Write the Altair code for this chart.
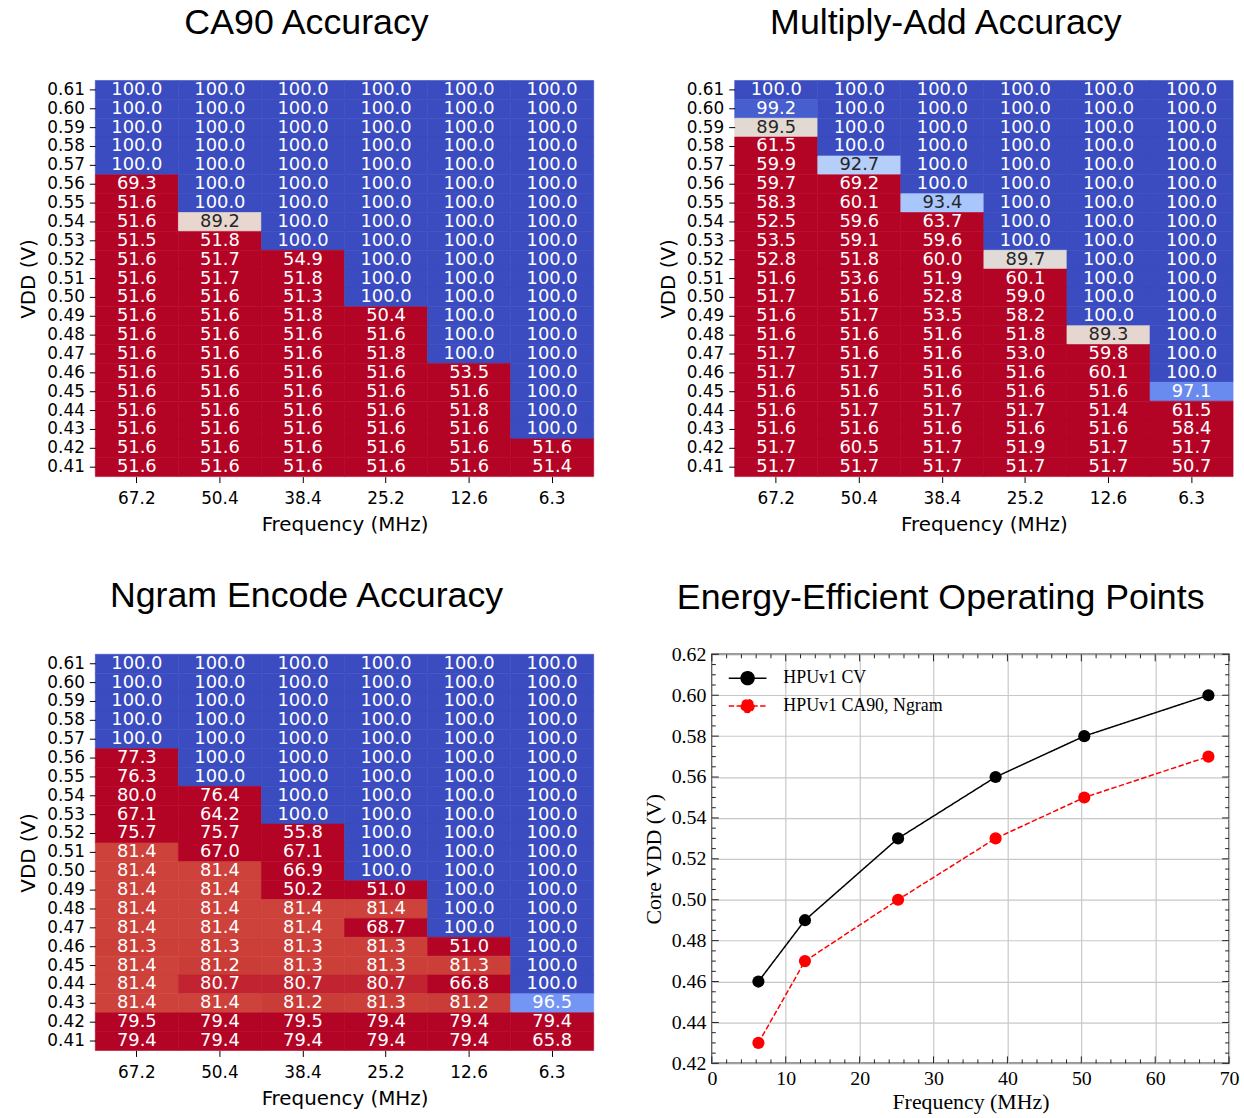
import altair as alt
import pandas as pd

# ---------------- data ----------------
vdd_labels = ["0.61", "0.60", "0.59", "0.58", "0.57", "0.56", "0.55", "0.54", "0.53",
              "0.52", "0.51", "0.50", "0.49", "0.48", "0.47", "0.46", "0.45", "0.44",
              "0.43", "0.42", "0.41"]
freq_labels = ["67.2", "50.4", "38.4", "25.2", "12.6", "6.3"]

ca90_acc = [
    [100.0, 100.0, 100.0, 100.0, 100.0, 100.0],
    [100.0, 100.0, 100.0, 100.0, 100.0, 100.0],
    [100.0, 100.0, 100.0, 100.0, 100.0, 100.0],
    [100.0, 100.0, 100.0, 100.0, 100.0, 100.0],
    [100.0, 100.0, 100.0, 100.0, 100.0, 100.0],
    [69.3, 100.0, 100.0, 100.0, 100.0, 100.0],
    [51.6, 100.0, 100.0, 100.0, 100.0, 100.0],
    [51.6, 89.2, 100.0, 100.0, 100.0, 100.0],
    [51.5, 51.8, 100.0, 100.0, 100.0, 100.0],
    [51.6, 51.7, 54.9, 100.0, 100.0, 100.0],
    [51.6, 51.7, 51.8, 100.0, 100.0, 100.0],
    [51.6, 51.6, 51.3, 100.0, 100.0, 100.0],
    [51.6, 51.6, 51.8, 50.4, 100.0, 100.0],
    [51.6, 51.6, 51.6, 51.6, 100.0, 100.0],
    [51.6, 51.6, 51.6, 51.8, 100.0, 100.0],
    [51.6, 51.6, 51.6, 51.6, 53.5, 100.0],
    [51.6, 51.6, 51.6, 51.6, 51.6, 100.0],
    [51.6, 51.6, 51.6, 51.6, 51.8, 100.0],
    [51.6, 51.6, 51.6, 51.6, 51.6, 100.0],
    [51.6, 51.6, 51.6, 51.6, 51.6, 51.6],
    [51.6, 51.6, 51.6, 51.6, 51.6, 51.4],
]

muladd_acc = [
    [100.0, 100.0, 100.0, 100.0, 100.0, 100.0],
    [99.2, 100.0, 100.0, 100.0, 100.0, 100.0],
    [89.5, 100.0, 100.0, 100.0, 100.0, 100.0],
    [61.5, 100.0, 100.0, 100.0, 100.0, 100.0],
    [59.9, 92.7, 100.0, 100.0, 100.0, 100.0],
    [59.7, 69.2, 100.0, 100.0, 100.0, 100.0],
    [58.3, 60.1, 93.4, 100.0, 100.0, 100.0],
    [52.5, 59.6, 63.7, 100.0, 100.0, 100.0],
    [53.5, 59.1, 59.6, 100.0, 100.0, 100.0],
    [52.8, 51.8, 60.0, 89.7, 100.0, 100.0],
    [51.6, 53.6, 51.9, 60.1, 100.0, 100.0],
    [51.7, 51.6, 52.8, 59.0, 100.0, 100.0],
    [51.6, 51.7, 53.5, 58.2, 100.0, 100.0],
    [51.6, 51.6, 51.6, 51.8, 89.3, 100.0],
    [51.7, 51.6, 51.6, 53.0, 59.8, 100.0],
    [51.7, 51.7, 51.6, 51.6, 60.1, 100.0],
    [51.6, 51.6, 51.6, 51.6, 51.6, 97.1],
    [51.6, 51.7, 51.7, 51.7, 51.4, 61.5],
    [51.6, 51.6, 51.6, 51.6, 51.6, 58.4],
    [51.7, 60.5, 51.7, 51.9, 51.7, 51.7],
    [51.7, 51.7, 51.7, 51.7, 51.7, 50.7],
]

ngram_acc = [
    [100.0, 100.0, 100.0, 100.0, 100.0, 100.0],
    [100.0, 100.0, 100.0, 100.0, 100.0, 100.0],
    [100.0, 100.0, 100.0, 100.0, 100.0, 100.0],
    [100.0, 100.0, 100.0, 100.0, 100.0, 100.0],
    [100.0, 100.0, 100.0, 100.0, 100.0, 100.0],
    [77.3, 100.0, 100.0, 100.0, 100.0, 100.0],
    [76.3, 100.0, 100.0, 100.0, 100.0, 100.0],
    [80.0, 76.4, 100.0, 100.0, 100.0, 100.0],
    [67.1, 64.2, 100.0, 100.0, 100.0, 100.0],
    [75.7, 75.7, 55.8, 100.0, 100.0, 100.0],
    [81.4, 67.0, 67.1, 100.0, 100.0, 100.0],
    [81.4, 81.4, 66.9, 100.0, 100.0, 100.0],
    [81.4, 81.4, 50.2, 51.0, 100.0, 100.0],
    [81.4, 81.4, 81.4, 81.4, 100.0, 100.0],
    [81.4, 81.4, 81.4, 68.7, 100.0, 100.0],
    [81.3, 81.3, 81.3, 81.3, 51.0, 100.0],
    [81.4, 81.2, 81.3, 81.3, 81.3, 100.0],
    [81.4, 80.7, 80.7, 80.7, 66.8, 100.0],
    [81.4, 81.4, 81.2, 81.3, 81.2, 96.5],
    [79.5, 79.4, 79.5, 79.4, 79.4, 79.4],
    [79.4, 79.4, 79.4, 79.4, 79.4, 65.8],
]

line_freq = [6.3, 12.6, 25.2, 38.4, 50.4, 67.2]
cv_vdd = [0.46, 0.49, 0.53, 0.56, 0.58, 0.60]
ca90_ngram_vdd = [0.43, 0.47, 0.50, 0.53, 0.55, 0.57]
series_names = ["HPUv1 CV", "HPUv1 CA90, Ngram"]

x_major = [0, 10, 20, 30, 40, 50, 60, 70]
x_minor = [v for v in range(0, 71, 2) if v % 10 != 0]
y_major = [0.42, 0.44, 0.46, 0.48, 0.50, 0.52, 0.54, 0.56, 0.58, 0.60, 0.62]
y_minor = [round(0.42 + 0.005 * i, 3) for i in range(41) if i % 4 != 0]

# coolwarm colormap stops (blue -> red), used reversed over [80, 100]
coolwarm = ["#3b4cc0", "#4d68d7", "#6282ea", "#779af7", "#8db0fe", "#a3c2ff",
            "#b8d0f9", "#ccd9ee", "#dddddd", "#ecd3c5", "#f5c4ad", "#f7b194",
            "#f49a7b", "#ec7f63", "#de604d", "#cb3e38", "#b40426"]
vmin, vmax = 80.0, 100.0
cw_domain = [vmin + (vmax - vmin) * i / 16 for i in range(17)]
cw_range = coolwarm[::-1]

DV = "DejaVu Sans"
SANS = "Liberation Sans"
SERIF = "Liberation Serif"
HW, HH = 502, 399
TITLE_OFFSET = 39


def heatmap(rows, title):
    recs = []
    for i, v in enumerate(vdd_labels):
        for j, f in enumerate(freq_labels):
            recs.append({"vdd": v, "freq": f, "acc": rows[i][j]})
    df = pd.DataFrame(recs)
    xaxis = alt.Axis(title="Frequency (MHz)", labelAngle=0, labelFont=DV, labelFontSize=17,
                     labelColor="black", tickColor="black", tickSize=6, tickWidth=1,
                     domain=False, labelPadding=8, titleFont=DV, titleFontSize=20,
                     titleFontWeight="normal", titleColor="black", titlePadding=8)
    yaxis = alt.Axis(title="VDD (V)", labelFont=DV, labelFontSize=17, labelColor="black",
                     tickColor="black", tickSize=6, tickWidth=1, domain=False,
                     labelPadding=5, titleFont=DV, titleFontSize=20,
                     titleFontWeight="normal", titleColor="black", titlePadding=8)
    base = alt.Chart(df).encode(
        x=alt.X("freq:O", sort=freq_labels, axis=xaxis,
                scale=alt.Scale(paddingInner=0, paddingOuter=0)),
        y=alt.Y("vdd:O", sort=vdd_labels, axis=yaxis,
                scale=alt.Scale(paddingInner=0, paddingOuter=0)),
    )
    cscale = alt.Scale(type="linear", domain=cw_domain, range=cw_range, clamp=True,
                       interpolate="rgb")
    rect = base.mark_rect(strokeWidth=0.6).encode(
        fill=alt.Fill("acc:Q", scale=cscale, legend=None),
        stroke=alt.Stroke("acc:Q", scale=cscale, legend=None),
    )
    text = base.mark_text(font=DV, fontSize=18).encode(
        text=alt.Text("acc:Q", format=".1f"),
        color=alt.condition("datum.acc > 84.7 && datum.acc < 95.3",
                            alt.value("#262626"), alt.value("#ffffff")),
    )
    return alt.layer(rect, text).properties(
        width=HW, height=HH,
        title=alt.Title(title, font=SANS, fontSize=36, fontWeight="normal", color="black",
                        frame="bounds", anchor="middle", offset=TITLE_OFFSET),
    )


h1 = heatmap(ca90_acc, "CA90 Accuracy")
h2 = heatmap(muladd_acc, "Multiply-Add Accuracy")
h3 = heatmap(ngram_acc, "Ngram Encode Accuracy")

# ---------------- line chart ----------------
LW, LH = 521, 412
line_df = pd.DataFrame({
    "series": [series_names[0]] * len(line_freq) + [series_names[1]] * len(line_freq),
    "freq": line_freq + line_freq,
    "vdd": cv_vdd + ca90_ngram_vdd,
})
xsc = alt.Scale(domain=[0, 70], nice=False, zero=False)
ysc = alt.Scale(domain=[0.42, 0.62], nice=False, zero=False)
lx_axis = alt.Axis(values=x_major, grid=True, gridColor="#c8c8c8", gridWidth=1.2, ticks=False,
                   domain=False, labelFont=SERIF, labelFontSize=20, labelColor="black",
                   labelPadding=5, labelFlush=False, title="Frequency (MHz)", titleFont=SERIF,
                   titleFontSize=22, titleFontWeight="normal", titleColor="black",
                   titlePadding=3)
ly_axis = alt.Axis(values=y_major, format=".2f", grid=True, gridColor="#c8c8c8", gridWidth=1.2,
                   ticks=False, domain=False, labelFont=SERIF, labelFontSize=20,
                   labelColor="black", labelPadding=6, labelFlush=False,
                   title="Core VDD (V)", titleFont=SERIF, titleFontSize=22,
                   titleFontWeight="normal", titleColor="black", titlePadding=6)

sym = "M-2,0L2,0M0.684,0A0.684,0.684,0,1,1,-0.684,0A0.684,0.684,0,1,1,0.684,0Z"
leg = alt.Legend(title=None, orient="none", legendX=25.5, legendY=13.5, symbolType=sym,
                 symbolSize=361, symbolStrokeWidth=1.5, labelFont=SERIF, labelFontSize=18,
                 labelColor="black", labelOffset=25.5, labelLimit=400, rowPadding=8,
                 padding=0)
color_enc = alt.Color("series:N", scale=alt.Scale(domain=series_names,
                                                  range=["#000000", "#ff0000"]), legend=leg)
dash_enc = alt.StrokeDash("series:N", scale=alt.Scale(domain=series_names,
                                                       range=[[1, 0], [5.5, 2.4]]), legend=leg)

lbase = alt.Chart(line_df).encode(
    x=alt.X("freq:Q", scale=xsc, axis=lx_axis),
    y=alt.Y("vdd:Q", scale=ysc, axis=ly_axis),
)
lines = lbase.mark_line(strokeWidth=1.5).encode(color=color_enc, strokeDash=dash_enc)
dots = lbase.mark_circle(size=150, opacity=1).encode(color=color_enc)


def xticks(vals, length, bottom):
    df = pd.DataFrame({"freq": vals})
    return alt.Chart(df).mark_rule(color="#222222", strokeWidth=1).encode(
        x=alt.X("freq:Q", scale=xsc, axis=lx_axis),
        y=alt.value(LH if bottom else 0),
        y2=alt.value(LH - length if bottom else length),
    )


def yticks(vals, length, left):
    df = pd.DataFrame({"vdd": vals})
    return alt.Chart(df).mark_rule(color="#222222", strokeWidth=1).encode(
        y=alt.Y("vdd:Q", scale=ysc, axis=ly_axis),
        x=alt.value(0 if left else LW),
        x2=alt.value(length if left else LW - length),
    )


tick_layers = [
    xticks(x_major, 7, True), xticks(x_major, 7, False),
    xticks(x_minor, 4, True), xticks(x_minor, 4, False),
    yticks(y_major, 7, True), yticks(y_major, 7, False),
    yticks(y_minor, 4, True), yticks(y_minor, 4, False),
]

line_chart = alt.layer(lines, dots, *tick_layers).properties(
    width=LW, height=LH,
    view=alt.ViewBackground(stroke="#333333", strokeWidth=1.5),
    title=alt.Title("Energy-Efficient Operating Points", font=SANS, fontSize=36,
                    fontWeight="normal", color="black", frame="bounds", anchor="middle",
                    offset=28),
)

top = alt.hconcat(h1, h2, spacing=64).resolve_scale(color="independent")
bottom = alt.hconcat(h3, line_chart, spacing=47).resolve_scale(
    color="independent", strokeDash="independent").resolve_legend(
    color="independent", strokeDash="independent")
chart = alt.vconcat(top, bottom, spacing=44).resolve_scale(
    color="independent", strokeDash="independent").resolve_legend(
    color="independent", strokeDash="independent").properties(
    padding={"left": 19, "top": 0, "right": 4, "bottom": 4},
    background="white",
).configure_view(strokeWidth=0)

chart.save("out.html", embed_options={"renderer": "svg", "actions": False})
